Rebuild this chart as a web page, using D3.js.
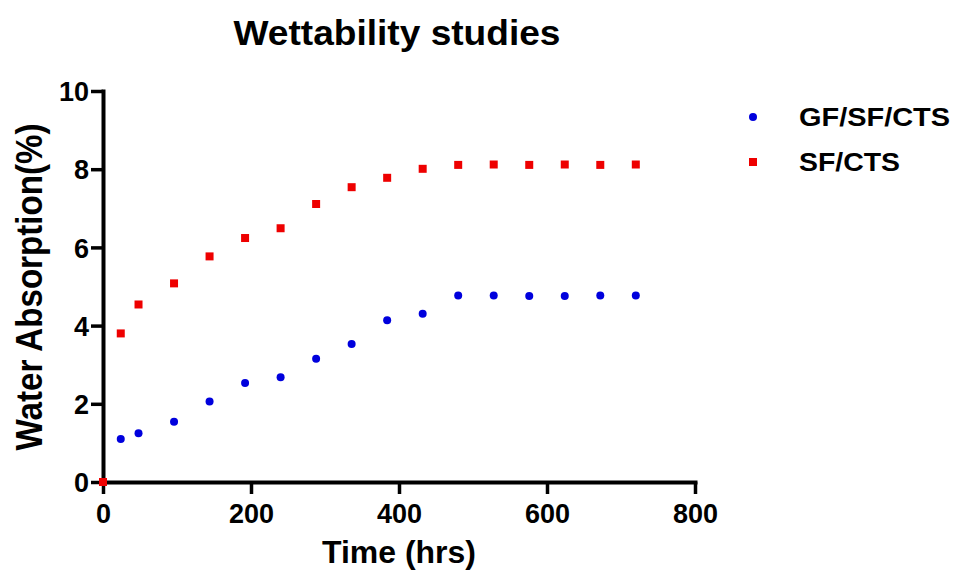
<!DOCTYPE html>
<html>
<head>
<meta charset="utf-8">
<script src="https://cdn.jsdelivr.net/npm/d3@7"></script>
<style>
  body { margin: 0; background: #fff; }
  text { font-family: 'Liberation Sans', Arial, sans-serif; font-weight: bold; fill: #000; }
</style>
</head>
<body>
<div id="chart-area"></div>
<script>
// data
const hours = [0, 24, 48, 96, 144, 192, 240, 288, 336, 384, 432, 480, 528, 576, 624, 672, 720];
const gfSfCts = [0, 1.10, 1.25, 1.54, 2.06, 2.53, 2.68, 3.15, 3.53, 4.14, 4.30, 4.77, 4.77, 4.76, 4.76, 4.77, 4.77];
const sfCts = [0, 3.80, 4.54, 5.08, 5.77, 6.24, 6.49, 7.11, 7.54, 7.78, 8.01, 8.11, 8.12, 8.11, 8.12, 8.11, 8.12];
const seriesNames = ['GF/SF/CTS', 'SF/CTS'];
const xTicks = [0, 200, 400, 600, 800];
const yTicks = [0, 2, 4, 6, 8, 10];

const W = 954, H = 571;
const margin = { left: 103, right: 259, top: 91, bottom: 89 };
const width = W - margin.left - margin.right;
const height = H - margin.top - margin.bottom;

const svg = d3.select('#chart-area').append('svg')
  .attr('width', W).attr('height', H);

const g = svg.append('g')
  .attr('transform', `translate(${margin.left}, ${margin.top})`);

const x = d3.scaleLinear().domain([0, 800]).range([0, width]);
const y = d3.scaleLinear().domain([0, 10]).range([height, 0]);

const colors = ['#0000dd', '#ee0000'];

// axes
const xAxis = g.append('g')
  .attr('transform', `translate(0, ${height})`)
  .call(d3.axisBottom(x).tickValues(xTicks).tickSizeInner(12).tickSizeOuter(0).tickPadding(10));
const yAxis = g.append('g')
  .call(d3.axisLeft(y).tickValues(yTicks).tickSizeInner(12).tickSizeOuter(0).tickPadding(2));

[xAxis, yAxis].forEach((ax) => {
  ax.select('.domain').attr('stroke', '#000').attr('stroke-width', 4).attr('stroke-linecap', 'square');
  ax.selectAll('.tick line').attr('stroke', '#000').attr('stroke-width', 3.5);
  ax.selectAll('.tick text')
    .style('font-family', "'Liberation Sans', Arial, sans-serif")
    .style('font-weight', 'bold')
    .attr('font-size', 27)
    .attr('fill', '#000');
});
yAxis.selectAll('.tick text').attr('dy', '0.36em');

// points
g.selectAll('.gf')
  .data(hours.map((h, i) => ({ h, v: gfSfCts[i] })))
  .enter()
  .append('circle')
  .attr('cx', (d) => x(d.h))
  .attr('cy', (d) => y(d.v))
  .attr('r', 4)
  .attr('fill', colors[0]);

const sq = 8;
g.selectAll('.sf')
  .data(hours.map((h, i) => ({ h, v: sfCts[i] })))
  .enter()
  .append('rect')
  .attr('x', (d) => x(d.h) - sq / 2)
  .attr('y', (d) => y(d.v) - sq / 2)
  .attr('width', sq)
  .attr('height', sq)
  .attr('fill', colors[1]);

// titles
svg.append('text')
  .attr('x', 397).attr('y', 45)
  .attr('text-anchor', 'middle')
  .attr('font-size', 35)
  .attr('textLength', 327)
  .attr('lengthAdjust', 'spacingAndGlyphs')
  .text('Wettability studies');

svg.append('text')
  .attr('x', 399).attr('y', 563)
  .attr('text-anchor', 'middle')
  .attr('font-size', 32)
  .attr('textLength', 154)
  .attr('lengthAdjust', 'spacingAndGlyphs')
  .text('Time (hrs)');

svg.append('text')
  .attr('transform', 'translate(42, 287) rotate(-90)')
  .attr('text-anchor', 'middle')
  .attr('font-size', 36)
  .attr('textLength', 327)
  .attr('lengthAdjust', 'spacingAndGlyphs')
  .text('Water Absorption(%)');

// legend
const legend = svg.append('g').attr('transform', 'translate(753, 117)');
const legItems = legend.selectAll('g')
  .data(seriesNames)
  .enter()
  .append('g')
  .attr('transform', (d, i) => `translate(0, ${i * 45})`);
legItems.each(function (d, i) {
  const item = d3.select(this);
  if (i === 0) {
    item.append('circle').attr('r', 4).attr('fill', colors[0]);
  } else {
    item.append('rect').attr('x', -4).attr('y', -4).attr('width', 8).attr('height', 8).attr('fill', colors[1]);
  }
  item.append('text')
    .attr('x', 46)
    .attr('dy', '0.36em')
    .attr('font-size', 26)
    .attr('textLength', i === 0 ? 151 : 101)
    .attr('lengthAdjust', 'spacingAndGlyphs')
    .text(d);
});
</script>
</body>
</html>
